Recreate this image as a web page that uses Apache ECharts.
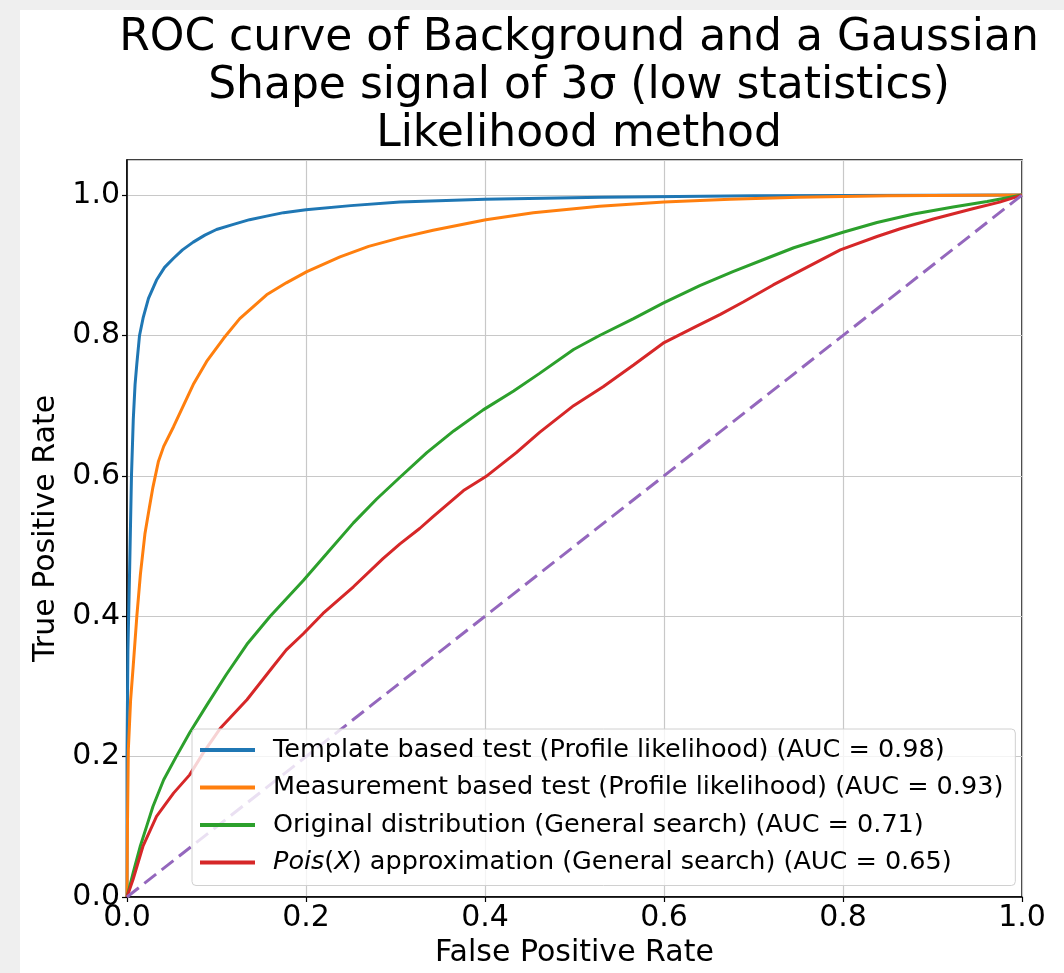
<!DOCTYPE html>
<html>
<head>
<meta charset="utf-8">
<script src="https://cdn.jsdelivr.net/npm/echarts@6/dist/echarts.min.js"></script>
<style>
  html, body { margin: 0; padding: 0; background: #efefef; }
  #roc { position: absolute; left: 20px; top: 10px; width: 1044px; height: 963px; background: #fff; }
</style>
</head>
<body>
<div id="roc"></div>
<script>
// ROC points [false positive rate, true positive rate]
var templateRoc = [[0,0],[0,0.2],[0.001,0.35],[0.003,0.47],[0.005,0.6],[0.007,0.68],[0.009,0.73],[0.011,0.76],[0.014,0.8],[0.018,0.825],[0.024,0.853],[0.033,0.879],[0.042,0.897],[0.052,0.91],[0.062,0.922],[0.074,0.933],[0.087,0.943],[0.1,0.951],[0.118,0.958],[0.137,0.965],[0.156,0.97],[0.175,0.975],[0.2,0.979],[0.25,0.985],[0.305,0.99],[0.4,0.994],[0.53,0.997],[0.7,0.999],[1,1]];
var measurementRoc = [[0,0],[0.0005,0.1],[0.0015,0.21],[0.004,0.28],[0.007,0.33],[0.011,0.4],[0.015,0.46],[0.02,0.517],[0.025,0.555],[0.029,0.584],[0.035,0.62],[0.041,0.642],[0.052,0.67],[0.063,0.7],[0.074,0.73],[0.089,0.763],[0.108,0.796],[0.126,0.824],[0.156,0.858],[0.178,0.875],[0.201,0.891],[0.238,0.912],[0.27,0.927],[0.305,0.939],[0.342,0.95],[0.401,0.965],[0.454,0.975],[0.528,0.984],[0.6,0.99],[0.674,0.994],[0.75,0.997],[0.85,0.999],[1,1]];
var originalRoc = [[0,0],[0.007,0.035],[0.015,0.073],[0.022,0.101],[0.029,0.129],[0.041,0.167],[0.055,0.2],[0.07,0.234],[0.089,0.273],[0.111,0.317],[0.134,0.36],[0.16,0.4],[0.197,0.451],[0.223,0.489],[0.253,0.533],[0.279,0.567],[0.305,0.598],[0.335,0.633],[0.365,0.664],[0.398,0.694],[0.432,0.721],[0.461,0.746],[0.499,0.78],[0.528,0.8],[0.566,0.824],[0.599,0.846],[0.64,0.871],[0.677,0.891],[0.715,0.91],[0.745,0.925],[0.8,0.947],[0.838,0.961],[0.879,0.973],[0.923,0.983],[0.961,0.991],[1,1]];
var poisRoc = [[0,0],[0.007,0.026],[0.018,0.073],[0.033,0.115],[0.052,0.148],[0.07,0.174],[0.085,0.205],[0.104,0.24],[0.134,0.281],[0.163,0.328],[0.178,0.352],[0.197,0.375],[0.219,0.404],[0.253,0.442],[0.286,0.482],[0.305,0.503],[0.327,0.525],[0.342,0.542],[0.376,0.579],[0.401,0.599],[0.435,0.633],[0.461,0.662],[0.499,0.7],[0.532,0.727],[0.566,0.758],[0.599,0.789],[0.636,0.813],[0.663,0.83],[0.689,0.848],[0.722,0.872],[0.752,0.892],[0.797,0.922],[0.838,0.941],[0.864,0.952],[0.901,0.966],[0.946,0.981],[0.975,0.99],[1,1]];
var chanceLine = [[0,0],[1,1]];

var seriesNames = [
  "Template based test (Profile likelihood) (AUC = 0.98)",
  "Measurement based test (Profile likelihood) (AUC = 0.93)",
  "Original distribution (General search) (AUC = 0.71)",
  "Pois(X) approximation (General search) (AUC = 0.65)"
];
var titleText = "ROC curve of Background and a Gaussian\nShape signal of 3\u03c3 (low statistics)\nLikelihood method";

var fontFam = "DejaVu Sans";
var myChart = echarts.init(document.getElementById("roc"));

function curve(name, data, color) {
  return {
    name: name,
    type: "line",
    data: data,
    showSymbol: false,
    symbol: "none",
    color: color,
    lineStyle: { width: 3, color: color },
    z: 3
  };
}

myChart.setOption({
  animation: false,
  textStyle: { fontFamily: fontFam },
  title: {
    text: titleText,
    left: 554,
    top: 0,
    textAlign: "center",
    textStyle: { fontFamily: fontFam, fontSize: 44, fontWeight: "normal", color: "#000", lineHeight: 48 }
  },
  grid: { left: 107, right: 42, top: 150, bottom: 75, show: true, borderColor: "#000", borderWidth: 1.5, backgroundColor: "#fff" },
  legend: {
    data: seriesNames,
    orient: "vertical",
    left: 172,
    top: 719,
    icon: "rect",
    itemWidth: 55,
    itemHeight: 4,
    itemGap: 9.5,
    padding: [7, 12, 9, 8],
    backgroundColor: "rgba(255,255,255,0.8)",
    borderColor: "#d0d0d0",
    borderWidth: 1,
    borderRadius: 4,
    z: 10,
    formatter: function (name) {
      if (name.indexOf("Pois(X)") === 0) {
        return "{it|Pois}(" + "{it|X}" + name.slice(6);
      }
      return name;
    },
    textStyle: {
      fontFamily: fontFam, fontSize: 25.5, color: "#000", lineHeight: 28, padding: [0, 0, 0, 13],
      rich: { it: { fontStyle: "italic", fontFamily: fontFam, fontSize: 25.5, lineHeight: 28, color: "#000" } }
    }
  },
  xAxis: {
    type: "value",
    min: 0,
    max: 1,
    interval: 0.2,
    name: "False Positive Rate",
    nameLocation: "middle",
    nameGap: 41,
    nameTextStyle: { fontFamily: fontFam, fontSize: 30, color: "#000", verticalAlign: "top" },
    axisLine: { show: true, onZero: false, lineStyle: { color: "#000", width: 1.5 } },
    axisTick: { show: true, length: 5, lineStyle: { color: "#000", width: 1.2 } },
    axisLabel: { fontFamily: fontFam, fontSize: 30, color: "#000", margin: 6, formatter: function (v) { return v.toFixed(1); } },
    splitLine: { show: true, lineStyle: { color: "#c8c8c8", width: 1.2 } }
  },
  yAxis: {
    type: "value",
    min: 0,
    max: 1.05,
    interval: 0.2,
    name: "True Positive Rate",
    nameLocation: "middle",
    nameGap: 64,
    nameTextStyle: { fontFamily: fontFam, fontSize: 30, color: "#000" },
    axisLine: { show: true, onZero: false, lineStyle: { color: "#000", width: 1.5 } },
    axisTick: { show: true, length: 5, lineStyle: { color: "#000", width: 1.2 } },
    axisLabel: {
      fontFamily: fontFam, fontSize: 30, color: "#000", margin: 7, showMaxLabel: false,
      formatter: function (v) { return Math.abs(v - 1.05) < 1e-6 ? "" : v.toFixed(1); }
    },
    splitLine: { show: true, lineStyle: { color: "#c8c8c8", width: 1.2 } }
  },
  series: [
    curve(seriesNames[0], templateRoc, "#1f77b4"),
    curve(seriesNames[1], measurementRoc, "#ff7f0e"),
    curve(seriesNames[2], originalRoc, "#2ca02c"),
    curve(seriesNames[3], poisRoc, "#d62728"),
    {
      type: "line",
      data: chanceLine,
      showSymbol: false,
      symbol: "none",
      color: "#9467bd",
      lineStyle: { width: 3, color: "#9467bd", type: [15, 7] },
      z: 3
    }
  ]
});
</script>
</body>
</html>
